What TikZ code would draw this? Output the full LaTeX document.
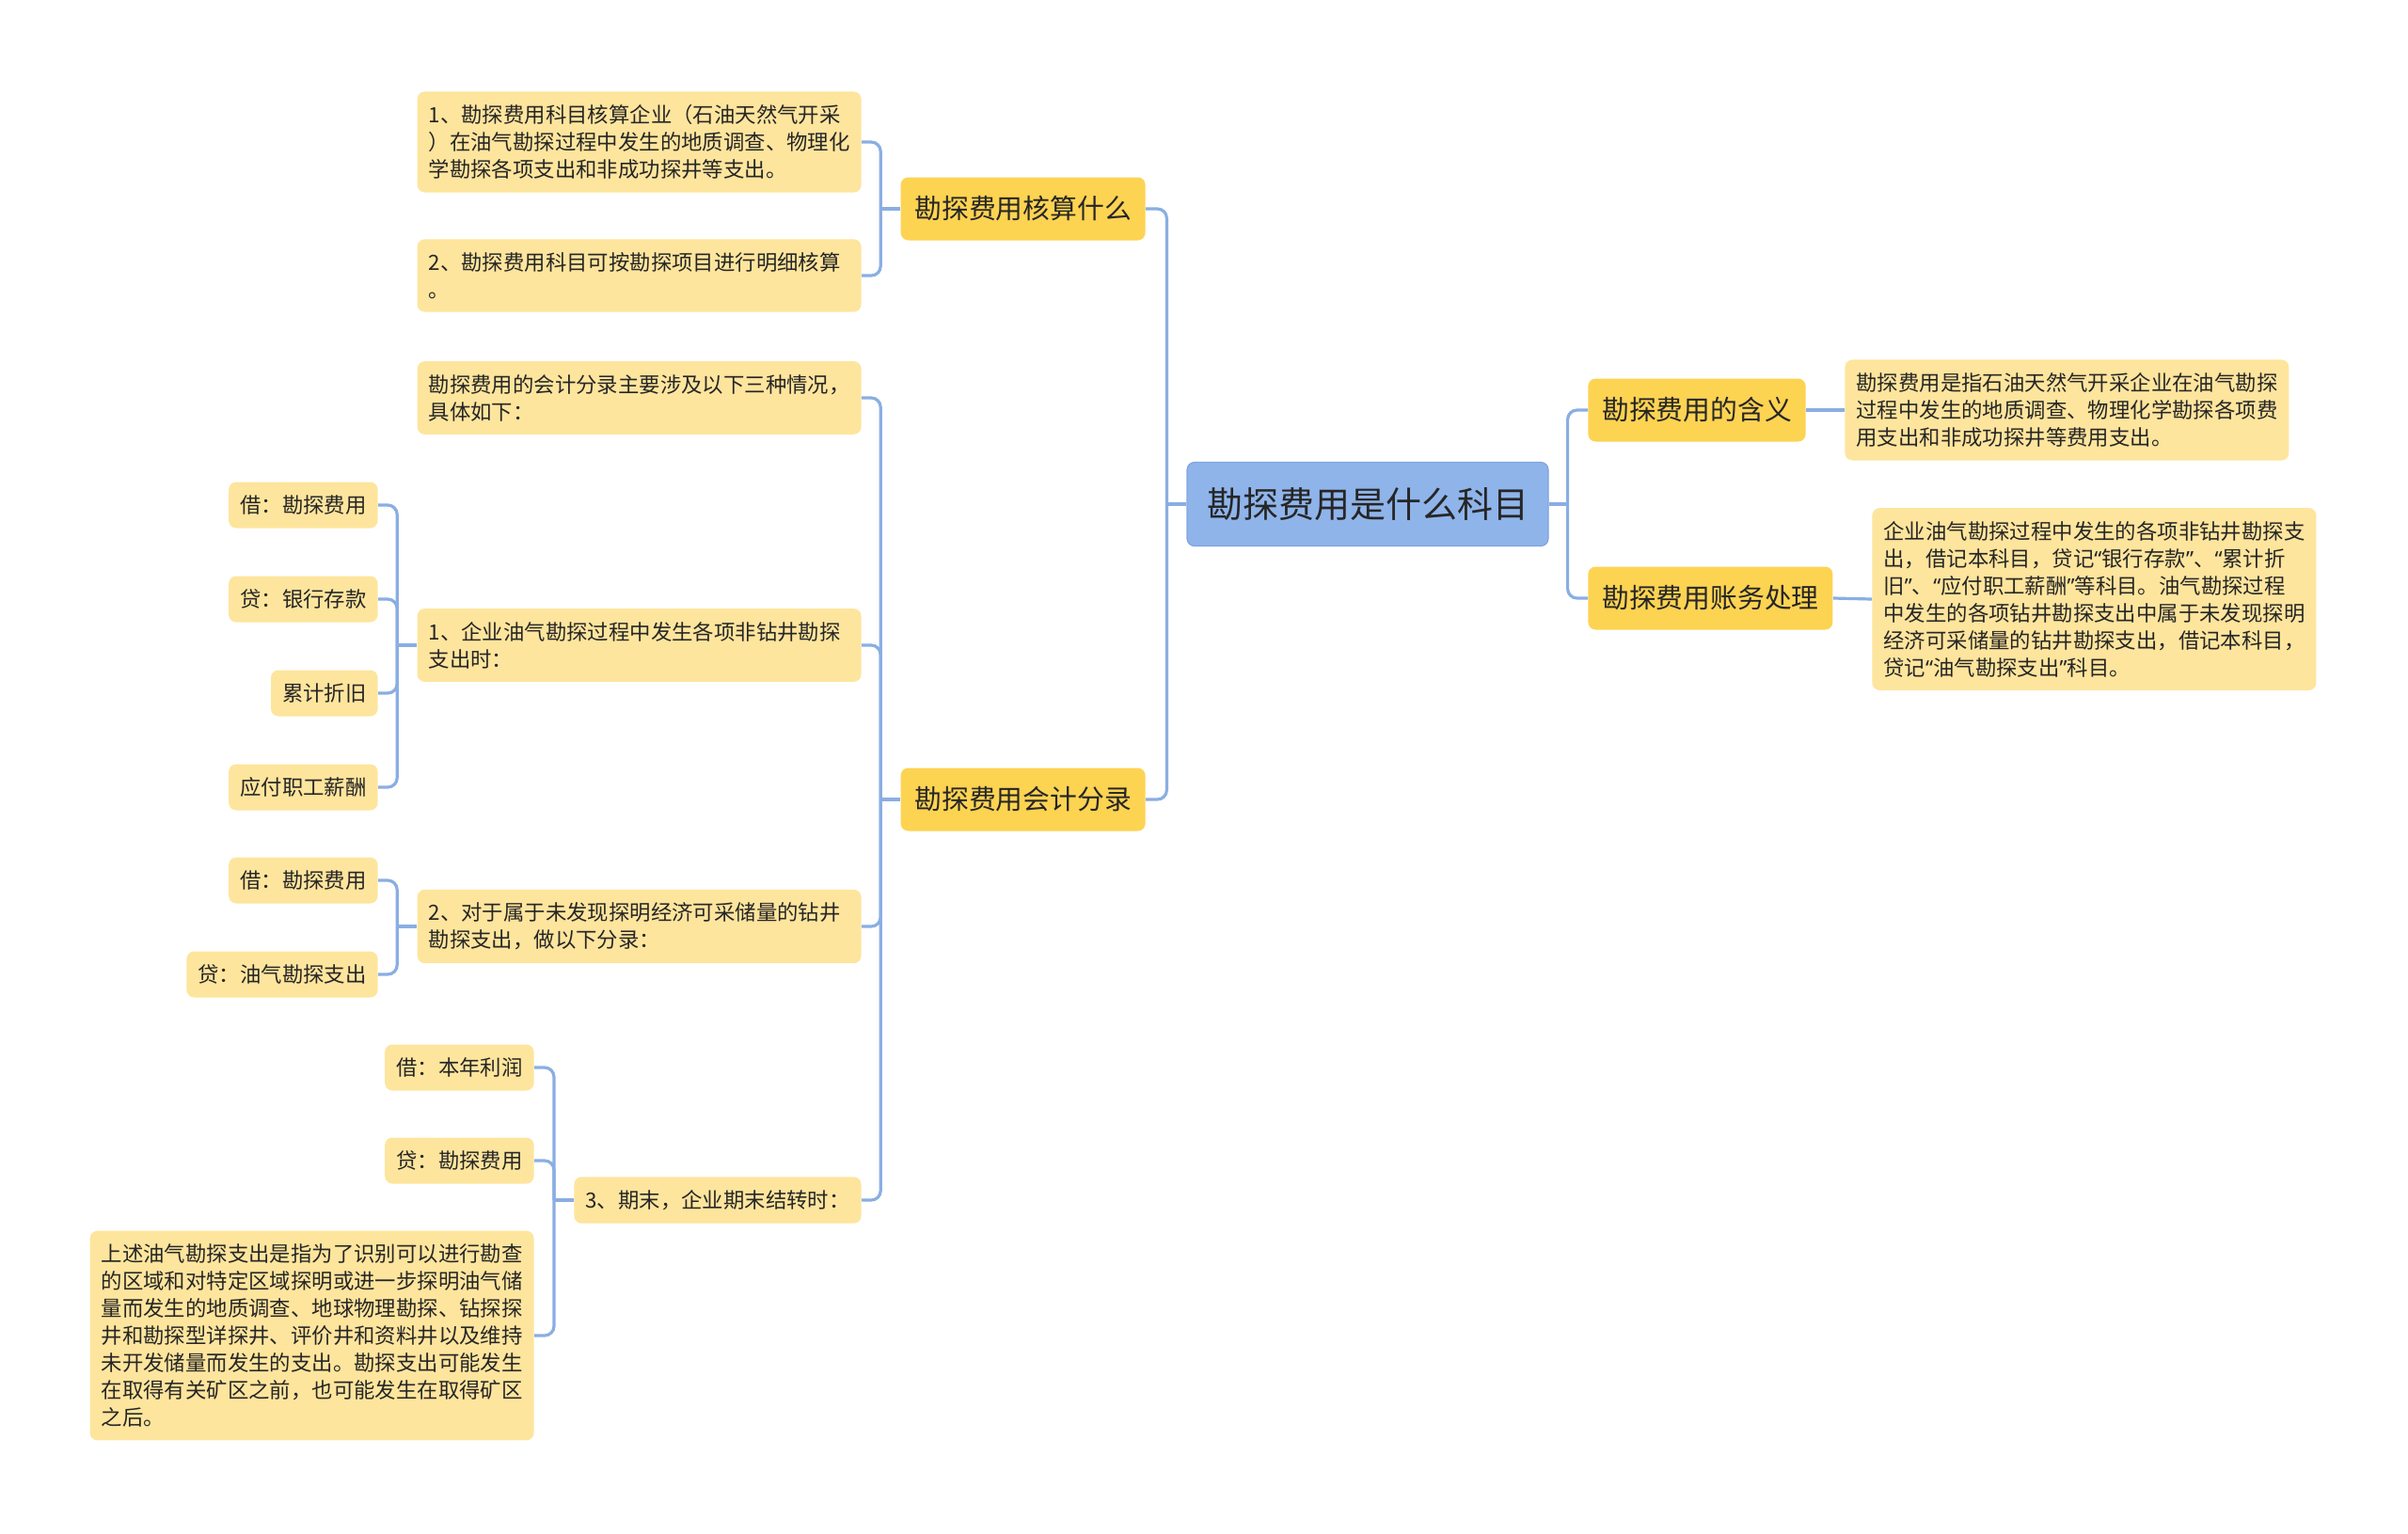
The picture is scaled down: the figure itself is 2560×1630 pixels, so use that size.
\documentclass[tikz,border=0pt]{standalone}
\usepackage{fontspec}
\setmainfont{Noto Sans CJK SC}
\newfontfamily\quotefont{Noto Sans}
\newcommand{\qo}{{\quotefont “}}
\newcommand{\qc}{{\quotefont ”}}
\definecolor{rootblue}{HTML}{8FB4EA}
\definecolor{rootedge}{HTML}{7FA4E0}
\definecolor{topicyellow}{HTML}{FDD352}
\definecolor{leafyellow}{HTML}{FEE59D}
\definecolor{linkblue}{HTML}{8AAEE3}
\definecolor{textdark}{HTML}{262626}
\begin{document}
\begin{tikzpicture}[x=0.5pt,y=-0.5pt,font=\fontsize{11.2}{14.5}\selectfont,
  box/.style={rounded corners=4pt,text=textdark,inner xsep=6pt,inner ysep=7pt},
  hub/.style={box,fill=rootblue,draw=rootedge,line width=0.6pt,
    font=\fontsize{19}{23}\selectfont,inner xsep=10.5pt,minimum height=44.5pt},
  topic/.style={box,fill=topicyellow,font=\fontsize{14.4}{17}\selectfont,
    inner xsep=7.4pt,minimum height=33.5pt},
  leaf/.style={box,fill=leafyellow,minimum height=24.5pt},
  note/.style={leaf,text width=224pt,align=left},
  link/.style={draw=linkblue,line width=1.6pt,rounded corners=5pt}]
\useasboundingbox (0,0) rectangle (2560,1630);
% centre and first level
\node[hub] (R) at (1454,536) {勘探费用是什么科目};
\node[topic,anchor=east] (T-1) at (1218,222) {勘探费用核算什么};
\node[topic,anchor=east] (T-2) at (1218,850) {勘探费用会计分录};
\node[topic,anchor=west,minimum width=115.5pt] (T-3) at (1688,436) {勘探费用的含义};
\node[topic,anchor=west] (T-4) at (1688,636) {勘探费用账务处理};
% notes
\node[note,anchor=east] (N-1) at (916,151) {1、勘探费用科目核算企业（石油天然气开采\\）在油气勘探过程中发生的地质调查、物理化\\学勘探各项支出和非成功探井等支出。};
\node[note,anchor=east] (N-2) at (916,293) {2、勘探费用科目可按勘探项目进行明细核算\\。};
\node[note,anchor=east] (N-3) at (916,423) {勘探费用的会计分录主要涉及以下三种情况，\\具体如下：};
\node[note,anchor=east] (N-4) at (916,686) {1、企业油气勘探过程中发生各项非钻井勘探\\支出时：};
\node[note,anchor=east] (N-5) at (916,985) {2、对于属于未发现探明经济可采储量的钻井\\勘探支出，做以下分录：};
\node[leaf,anchor=east] (N-6) at (916,1276) {3、期末，企业期末结转时：};
\node[note,anchor=west] (N-7) at (1961,436) {勘探费用是指石油天然气开采企业在油气勘探\\过程中发生的地质调查、物理化学勘探各项费\\用支出和非成功探井等费用支出。};
\node[note,anchor=west] (N-8) at (1990,637) {企业油气勘探过程中发生的各项非钻井勘探支\\出，借记本科目，贷记\qo 银行存款\qc 、\qo 累计折\\旧\qc 、\qo 应付职工薪酬\qc 等科目。油气勘探过程\\中发生的各项钻井勘探支出中属于未发现探明\\经济可采储量的钻井勘探支出，借记本科目，\\贷记\qo 油气勘探支出\qc 科目。};
% entries
\foreach \X [count=\Y] in {借：勘探费用,贷：银行存款,累计折旧,应付职工薪酬}
  \node[leaf,anchor=east] (P-\Y) at (402,{437+\Y*100}) {\X};
\foreach \X [count=\Y] in {借：勘探费用,贷：油气勘探支出}
  \node[leaf,anchor=east] (Q-\Y) at (402,{836+\Y*100}) {\X};
\node[leaf,anchor=east] (S-1) at (568,1135) {借：本年利润};
\node[leaf,anchor=east] (S-2) at (568,1234) {贷：勘探费用};
\node[note,anchor=east] (S-3) at (568,1420) {上述油气勘探支出是指为了识别可以进行勘查\\的区域和对特定区域探明或进一步探明油气储\\量而发生的地质调查、地球物理勘探、钻探探\\井和勘探型详探井、评价井和资料井以及维持\\未开发储量而发生的支出。勘探支出可能发生\\在取得有关矿区之前，也可能发生在取得矿区\\之后。};
% connectors
\foreach \P in {R,T-1,T-2,N-4,N-5,N-6}
  \draw[link] (\P.west) -- ([xshift=-10.5pt]\P.west);
\foreach \P/\C in {R/T-1,R/T-2,T-1/N-1,T-1/N-2,T-2/N-3,T-2/N-4,T-2/N-5,T-2/N-6,
  N-4/P-1,N-4/P-2,N-4/P-3,N-4/P-4,N-5/Q-1,N-5/Q-2,N-6/S-1,N-6/S-2,N-6/S-3}
  \draw[link] ([xshift=-10.5pt]\P.west) |- (\C.east);
\draw[link] (R.east) -- ([xshift=10pt]R.east);
\foreach \C in {T-3,T-4}
  \draw[link] ([xshift=10pt]R.east) |- (\C.west);
\draw[link] (T-3.east) -- (N-7.west);
\draw[link] (T-4.east) -- (N-8.west);
\end{tikzpicture}
\end{document}
